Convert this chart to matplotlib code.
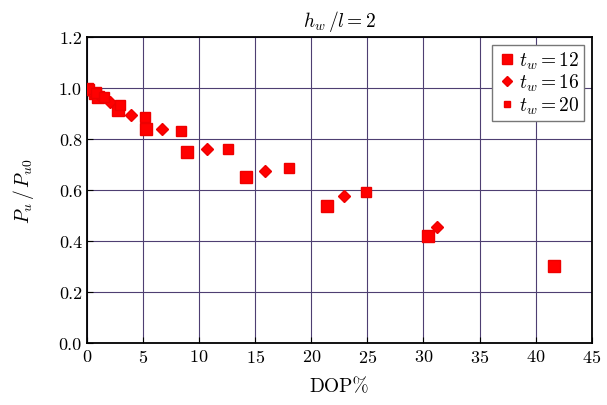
import numpy as np
import matplotlib.pyplot as plt

plt.rcParams['font.family'] = 'serif'
plt.rcParams['font.serif'] = ['cmr10']
plt.rcParams['mathtext.fontset'] = 'cm'
plt.rcParams['axes.unicode_minus'] = False
plt.rcParams['axes.formatter.use_mathtext'] = True

# t_w = 12
dop12 = [0.0, 0.7, 1.0, 2.8, 5.3, 8.9, 14.2, 21.4, 30.4, 41.6]
p12 = [0.995, 0.98, 0.965, 0.915, 0.84, 0.75, 0.652, 0.537, 0.42, 0.302]
# t_w = 16
dop16 = [0.3, 1.2, 2.1, 3.9, 6.7, 10.7, 15.9, 22.9, 31.2]
p16 = [0.99, 0.97, 0.945, 0.895, 0.84, 0.76, 0.675, 0.577, 0.455]
# t_w = 20
dop20 = [0.2, 0.8, 1.5, 3.0, 5.2, 8.4, 12.6, 18.0, 24.9]
p20 = [0.995, 0.98, 0.965, 0.935, 0.886, 0.83, 0.76, 0.686, 0.592]

fig = plt.figure(figsize=(6.07, 4.06), dpi=100)
ax = fig.add_axes([0.143, 0.153, 0.832, 0.753])

ax.plot(dop12, p12, 's', color='#ff0000', mec='#ee0000', ms=9, label='$t_w = 12$', zorder=3)
ax.plot(dop16, p16, 'D', color='#ff0000', mec='#ee0000', ms=6.5, label='$t_w = 16$', zorder=3)
ax.plot(dop20, p20, 's', color='#ff0000', mec='#ee0000', ms=6.5, label='$t_w = 20$', zorder=3)

ax.set_xlim(0, 45)
ax.set_ylim(0, 1.2)
ax.set_xticks(np.arange(0, 46, 5))
ax.set_yticks(np.arange(0, 1.21, 0.2))
ax.set_yticklabels(['%.1f' % v for v in np.arange(0, 1.21, 0.2)])
ax.grid(True, color='#4e3f72', linewidth=0.8)
ax.set_axisbelow(True)
ax.tick_params(direction='in', labelsize=13, length=4)
for s in ax.spines.values():
    s.set_linewidth(1.3)

ax.set_xlabel('DOP%', fontsize=14, labelpad=9)
ax.set_ylabel('$P_u\\,/\\,P_{u0}$', fontsize=14, labelpad=16)
ax.set_title('$h_w\\,/l = 2$', fontsize=14, pad=8)

leg = ax.legend(loc='upper right', fontsize=14, fancybox=False, edgecolor='#777777',
                framealpha=1, handletextpad=0.1, handlelength=1.0, borderpad=0.25,
                labelspacing=0.05, borderaxespad=0.4, markerscale=0.75)

fig.savefig('out.png', dpi=100)
